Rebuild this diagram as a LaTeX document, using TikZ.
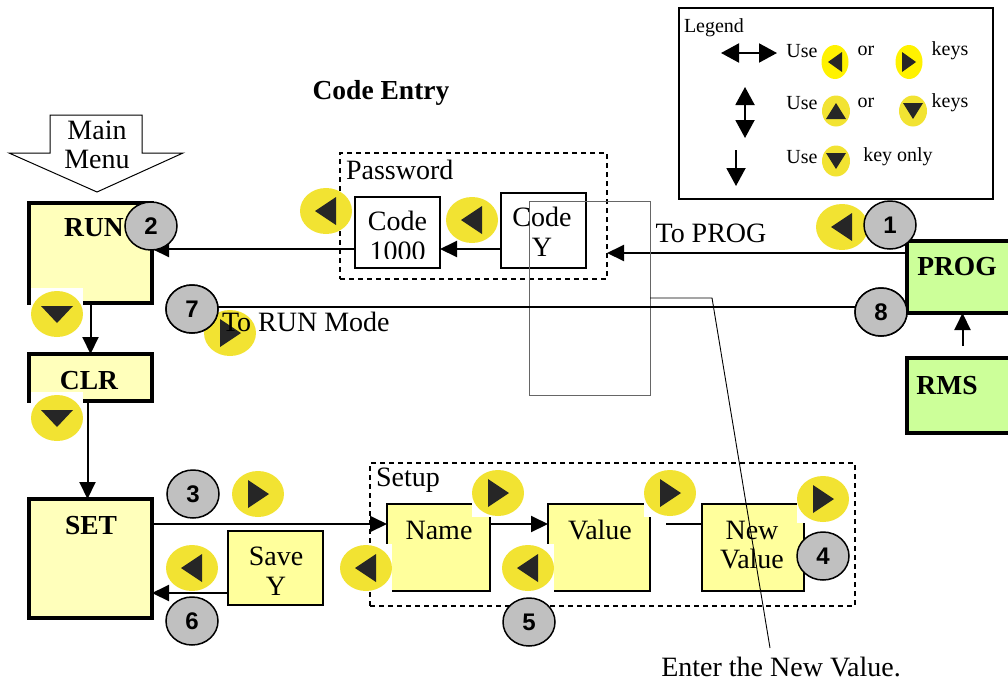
\documentclass[tikz,border=0pt]{standalone}
\usepackage{fontspec}
\setmainfont{Liberation Serif}
\newfontfamily\numfont{Liberation Sans}
\usetikzlibrary{shapes.geometric,arrows.meta,calc}
\definecolor{keyyel}{HTML}{F2E332}
\definecolor{keybright}{HTML}{FFF200}
\definecolor{keydark}{HTML}{262626}
\definecolor{paleyel}{HTML}{FFFFBB}
\definecolor{boxyel}{HTML}{FFFF9C}
\definecolor{progreen}{HTML}{CCFF99}
\definecolor{numgray}{HTML}{C0C0C0}
% key triangles (big keys)
\newcommand{\triL}[1]{\fill[keydark] ($(#1)+(-11,0)$) -- ($(#1)+(10,-14)$) -- ($(#1)+(10,14)$) -- cycle;}
\newcommand{\triR}[1]{\fill[keydark] ($(#1)+(11,0)$) -- ($(#1)+(-10,-14)$) -- ($(#1)+(-10,14)$) -- cycle;}
\newcommand{\triD}[1]{\fill[keydark] ($(#1)+(0,9)$) -- ($(#1)+(-16,-8)$) -- ($(#1)+(16,-8)$) -- cycle;}
% small legend triangles
\newcommand{\striL}[1]{\fill[keydark] ($(#1)+(-7,0)$) -- ($(#1)+(7,-10)$) -- ($(#1)+(7,10)$) -- cycle;}
\newcommand{\striR}[1]{\fill[keydark] ($(#1)+(7,0)$) -- ($(#1)+(-7,-10)$) -- ($(#1)+(-7,10)$) -- cycle;}
\newcommand{\striU}[1]{\fill[keydark] ($(#1)+(0,-8)$) -- ($(#1)+(-10,8)$) -- ($(#1)+(10,8)$) -- cycle;}
\newcommand{\striD}[1]{\fill[keydark] ($(#1)+(0,8)$) -- ($(#1)+(-10,-8)$) -- ($(#1)+(10,-8)$) -- cycle;}
\begin{document}
\begin{tikzpicture}[x=1pt,y=-1pt,
  every node/.style={inner sep=0pt, outer sep=0pt},
  txt/.style={font=\fontsize{28}{29.5}\selectfont, align=center},
  btxt/.style={font=\fontsize{27.5}{29}\selectfont\bfseries},
  ltxt/.style={font=\fontsize{20}{22}\selectfont},
  bigbox/.style={draw, line width=4pt, fill=paleyel, rectangle},
  greenbox/.style={draw, line width=4pt, fill=progreen, rectangle},
  smallbox/.style={draw, line width=2pt, fill=boxyel, rectangle},
  codebox/.style={draw, line width=1.5pt, fill=white, rectangle},
  dashbox/.style={draw, line width=1.3pt, dash pattern=on 5pt off 4pt, rectangle},
  arr/.style={line width=2pt, -{Triangle[length=17pt,width=16pt]}},
  plain/.style={line width=2pt},
  key/.style={ellipse, fill=keyyel, minimum width=52, minimum height=46},
  keybg/.style={rectangle, fill=white, minimum width=52, minimum height=48},
  lkeyh/.style={ellipse, fill=keybright, minimum width=27, minimum height=34},
  lkeyv/.style={ellipse, fill=keyyel, minimum width=28, minimum height=31},
  num/.style={ellipse, draw, line width=1.5pt, fill=numgray, minimum width=52, minimum height=48, font=\numfont\bfseries\fontsize{24}{24}\selectfont},
  legarr/.style={line width=2pt, {Triangle[length=18pt,width=19pt]}-{Triangle[length=18pt,width=19pt]}},
  legarr1/.style={line width=2pt, -{Triangle[length=18pt,width=19pt]}}
]
\useasboundingbox (0,0) rectangle (1008,683);

% ---------- Legend ----------
\node[draw, line width=2pt, rectangle, minimum width=314, minimum height=191] (legend) at (836,103.5) {};
\node[ltxt, anchor=west] (legt) at (684,28) {Legend};
\draw[legarr] (721,53) -- (777,53);
\draw[legarr] (745,87) -- (745,138);
\draw[legarr1] (736,150) -- (736,186);
\node[ltxt] (u1) at (802,51) {Use};
\node[lkeyh] (lk1) at (835,62) {}; \striL{lk1}
\node[ltxt] (or1) at (866,51) {or};
\node[lkeyh] (lk2) at (909,62) {}; \striR{lk2}
\node[ltxt] (ky1) at (950,51) {keys};
\node[ltxt] (u2) at (802,103) {Use};
\node[lkeyv] (lk3) at (836,111) {}; \striU{lk3}
\node[ltxt] (or2) at (866,103) {or};
\node[lkeyv] (lk4) at (913,111) {}; \striD{lk4}
\node[ltxt] (ky2) at (950,103) {keys};
\node[ltxt] (u3) at (802,157) {Use};
\node[lkeyv] (lk5) at (836,161) {}; \striD{lk5}
\node[ltxt] (ko) at (898,157) {key only};

% ---------- Titles ----------
\node[btxt] (title) at (381,93) {Code Entry};
\draw[line width=1pt, fill=white] (50,115) -- (142,115) -- (142,153) -- (183,153) -- (97,192) -- (9,153) -- (50,153) -- cycle;
\node[txt] (mm) at (97,145) {Main\\Menu};

% ---------- Dashed groups ----------
\node[dashbox, minimum width=267, minimum height=126] (pw) at (473.5,216) {};
\node[dashbox, minimum width=485, minimum height=143] (setup) at (612.5,534.5) {};
\node[txt, anchor=west] (pwt) at (346,170) {Password};
\node[txt, anchor=west] (sut) at (376,480) {Setup};

% ---------- Boxes ----------
\node[bigbox, minimum width=123, minimum height=100] (run) at (90.5,253) {};
\node[bigbox, minimum width=123, minimum height=47] (clr) at (90.5,377.5) {};
\node[bigbox, minimum width=123, minimum height=119] (set) at (90.5,558.5) {};
\node[greenbox, minimum width=111, minimum height=72] (prog) at (962.5,277) {};
\node[greenbox, minimum width=111, minimum height=75] (rms) at (962.5,395.5) {};
\node[smallbox, minimum width=95, minimum height=74] (save) at (275.5,568) {};
\node[smallbox, minimum width=103, minimum height=87] (name) at (438.5,547.5) {};
\node[smallbox, minimum width=102, minimum height=87] (val) at (599,547.5) {};
\node[smallbox, minimum width=102, minimum height=87] (nval) at (753,547.5) {};
\node[codebox, minimum width=85, minimum height=71] (c1) at (397.5,232.5) {};
\node[codebox, minimum width=85, minimum height=75] (cy) at (543.5,230.5) {};

% ---------- Connectors ----------
\draw[arr] ([yshift=24pt]prog.west) -- ([yshift=24pt]prog.west -| pw.east);
\draw[arr] ([yshift=-18.5pt]cy.west) -- ([yshift=-18.5pt]cy.west -| c1.east);
\draw[arr] ([yshift=-16.5pt]c1.west) -- ([yshift=-16.5pt]c1.west -| run.east);
\draw[arr] (run.south) -- (clr.north);
\draw[arr] ([xshift=-3pt]clr.south) -- ([xshift=-3pt]set.north);
\draw[arr] ([yshift=34.5pt]set.east) -- ([yshift=34.5pt]set.east -| name.west);
\draw[arr] ([yshift=23.5pt]name.east) -- ([yshift=23.5pt]name.east -| val.west);
\draw[plain] ([xshift=16pt,yshift=23.5pt]val.east) -- ([yshift=23.5pt]val.east -| nval.west);
\draw[arr] ([yshift=-25pt]save.west) -- ([yshift=-25pt]save.west -| set.east);
\draw[arr] ([yshift=12pt]rms.north) -- (prog.south);

% ---------- Callout ----------
\node[draw=black!60, line width=1pt, rectangle, minimum width=121, minimum height=194] (callbox) at (589.5,298) {};
\node[txt] (enter) at (781,667) {Enter the New Value.};
\coordinate (cbend) at (712,298);
\coordinate (cend) at (770,648);
\draw[line width=0.9pt] (callbox.east) -- (cbend) -- (cend);

% ---------- Keys ----------
\node[key] (k1) at (326,211) {}; \triL{k1}
\node[key] (k2) at (472,220) {}; \triL{k2}
\node[key] (k3) at (842,227) {}; \triL{k3}
\node[keybg] (k4bg) at (57,312) {};
\node[key] (k4) at (57,314) {}; \triD{k4}
\node[keybg] (k5bg) at (57,416) {};
\node[key] (k5) at (57,418) {}; \triD{k5}
\node[key] (k6) at (230,333) {}; \triR{k6}
\node[key] (k7) at (258,494) {}; \triR{k7}
\node[key] (k8) at (192,568) {}; \triL{k8}
\node[keybg] (k9bg) at (498,493) {};
\node[key] (k9) at (498,493) {}; \triR{k9}
\node[keybg] (k10bg) at (366,568) {};
\node[key] (k10) at (366,568) {}; \triL{k10}
\node[keybg] (k11bg) at (670,493) {};
\node[key] (k11) at (670,493) {}; \triR{k11}
\node[keybg] (k12bg) at (528,568) {};
\node[key] (k12) at (528,568) {}; \triL{k12}
\node[keybg] (k13bg) at (823,499) {};
\node[key] (k13) at (823,499) {}; \triR{k13}

% ---------- Step numbers ----------
\node[num] (n7) at (192,309) {};
\node[num] (n8) at (881,312) {};
\draw[line width=1.5pt] ([yshift=5pt]n8.west) -- ([yshift=5pt]n8.west -| n7.east);
\node[num] at (n7) {7};
\node[num] at (n8) {8};
\node[num] (n1) at (890,225) {1};
\node[num] (n2) at (151,226) {2};
\node[num] (n3) at (193,494) {3};
\node[num] (n4) at (823,556) {4};
\node[num] (n5) at (529,622) {5};
\node[num] (n6) at (192,621) {6};

% ---------- Labels ----------
\node[btxt] (runt) at (94,228) {RUN};
\node[btxt] (clrt) at (89,381) {CLR};
\node[btxt] (sett) at (91,526) {SET};
\node[btxt] (progt) at (957,267) {PROG};
\node[btxt] (rmst) at (947,386) {RMS};
\node[txt] (topr) at (711,233) {To PROG};
\node[txt, anchor=west] (torun) at (222,322) {To RUN Mode};
\begin{scope}
  \clip (354,196) rectangle (441,258);
  \node[txt] (c1t) at (397.5,236) {Code\\1000};
\end{scope}
\node[txt] (cyt) at (542,232) {Code\\Y};
\node[txt] (savet) at (276,571) {Save\\Y};
\node[txt] (namet) at (439,530) {Name};
\node[txt] (valt) at (600,530) {Value};
\node[txt] (nvalt) at (752,545) {New\\Value};
\end{tikzpicture}
\end{document}
